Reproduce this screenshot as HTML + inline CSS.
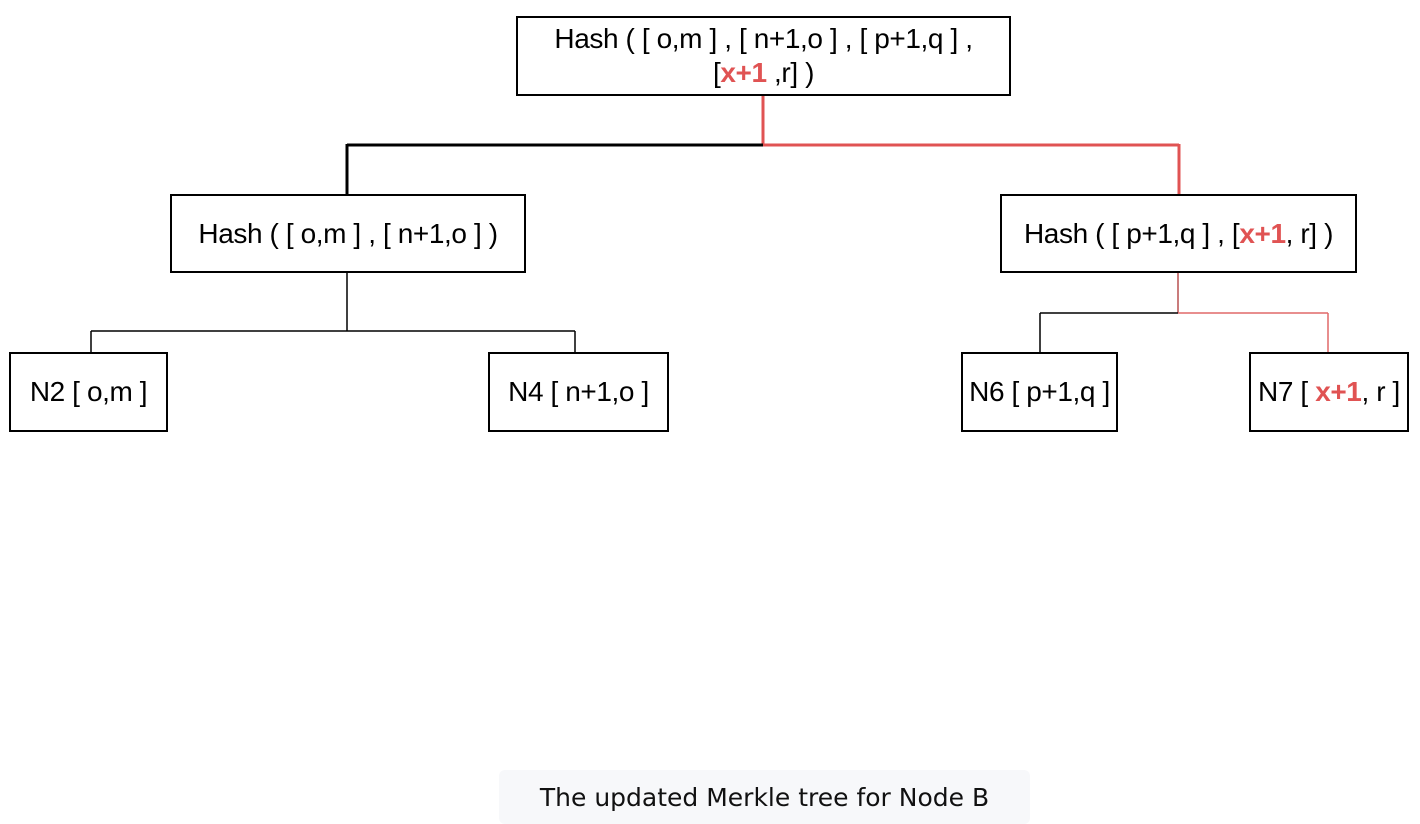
<!DOCTYPE html>
<html><head><meta charset="utf-8">
<style>
html,body{margin:0;padding:0;background:#fff;}
body{width:1420px;height:824px;position:relative;overflow:hidden;font-family:"Liberation Sans",sans-serif;}
.box{position:absolute;box-sizing:border-box;border:2px solid #000;background:#fff;display:flex;align-items:center;justify-content:center;text-align:center;font-size:28px;letter-spacing:-0.4px;line-height:34px;color:#000;}
.r{color:#e05353;font-weight:bold;}
svg{position:absolute;left:0;top:0;}
.cap{position:absolute;left:499px;top:770px;width:531px;height:54px;background:#f7f8fa;border-radius:6px;display:flex;align-items:center;justify-content:center;color:#111;font-family:"DejaVu Sans","Liberation Sans",sans-serif;font-size:25px;}
</style></head><body>
<svg width="1420" height="824">
  <line x1="763" y1="95" x2="763" y2="146" stroke="#e05353" stroke-width="3"/>
  <line x1="347" y1="145" x2="764" y2="145" stroke="#000" stroke-width="3"/>
  <line x1="347" y1="144" x2="347" y2="194" stroke="#000" stroke-width="3"/>
  <line x1="763" y1="145" x2="1179" y2="145" stroke="#e05353" stroke-width="3"/>
  <line x1="1179" y1="144" x2="1179" y2="194" stroke="#e05353" stroke-width="3"/>
  <line x1="347" y1="272" x2="347" y2="331" stroke="#000" stroke-width="1.5"/>
  <line x1="91" y1="331" x2="575" y2="331" stroke="#000" stroke-width="1.5"/>
  <line x1="91" y1="331" x2="91" y2="352" stroke="#000" stroke-width="1.5"/>
  <line x1="575" y1="331" x2="575" y2="352" stroke="#000" stroke-width="1.5"/>
  <line x1="1178" y1="272" x2="1178" y2="313" stroke="#b85050" stroke-width="1.5"/>
  <line x1="1040" y1="313" x2="1178" y2="313" stroke="#000" stroke-width="1.5"/>
  <line x1="1040" y1="313" x2="1040" y2="352" stroke="#000" stroke-width="1.5"/>
  <line x1="1178" y1="313" x2="1328" y2="313" stroke="#e06868" stroke-width="1.5"/>
  <line x1="1328" y1="313" x2="1328" y2="352" stroke="#e06868" stroke-width="1.5"/>
</svg>
<div class="box" style="left:516px;top:16px;width:495px;height:80px;"><span>Hash ( [ o,m ] , [ n+1,o ] , [ p+1,q ] ,<br>[<span class="r">x+1</span> ,r] )</span></div>
<div class="box" style="left:170px;top:194px;width:356px;height:79px;"><span>Hash ( [ o,m ] , [ n+1,o ] )</span></div>
<div class="box" style="left:1000px;top:194px;width:357px;height:79px;"><span>Hash ( [ p+1,q ] , [<span class="r">x+1</span>, r] )</span></div>
<div class="box" style="left:9px;top:352px;width:159px;height:80px;"><span>N2 [ o,m ]</span></div>
<div class="box" style="left:488px;top:352px;width:181px;height:80px;"><span>N4 [ n+1,o ]</span></div>
<div class="box" style="left:961px;top:352px;width:157px;height:80px;"><span>N6 [ p+1,q ]</span></div>
<div class="box" style="left:1249px;top:352px;width:160px;height:80px;"><span>N7 [ <span class="r">x+1</span>, r ]</span></div>
<div class="cap">The updated Merkle tree for Node B</div>
</body></html>
